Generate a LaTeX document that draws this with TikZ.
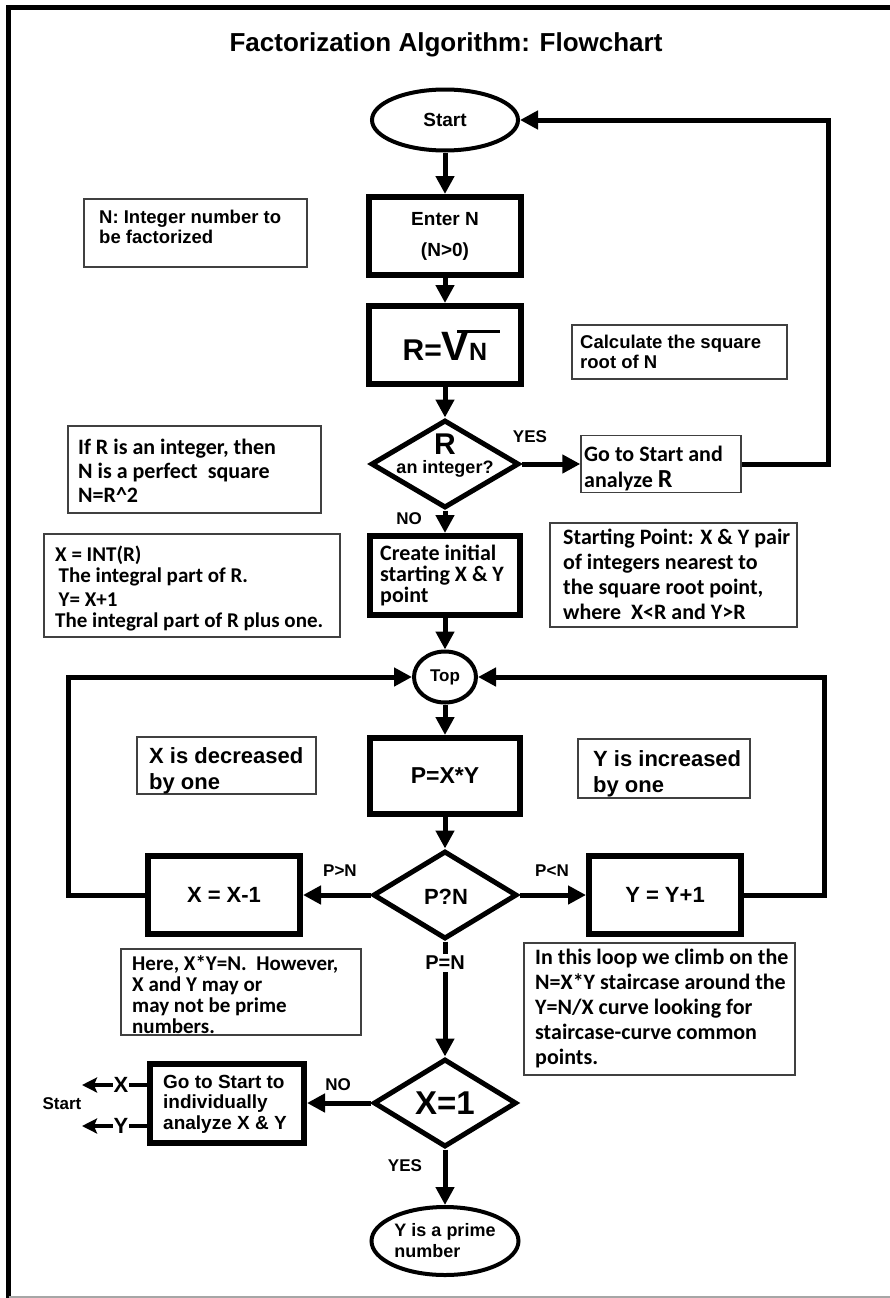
\documentclass[tikz,border=0pt]{standalone}
\usepackage{fontspec}
\setmainfont{Liberation Sans}
\newfontfamily\calfont{Carlito}
\usetikzlibrary{shapes.geometric,arrows.meta,calc}
\newcommand\fs[2]{\fontsize{#1}{#2}\selectfont\bfseries}
\newcommand\cf[2]{\calfont\fontsize{#1}{#2}\selectfont\bfseries}
\begin{document}
\begin{tikzpicture}[x=1pt,y=-1pt,
  thickbox/.style={draw,rectangle,line width=6pt,inner sep=0pt},
  note/.style={draw=black!75,rectangle,line width=1.4pt,inner sep=0pt},
  txt/.style={inner sep=0pt,anchor=north west,align=left},
  flow/.style={line width=5pt,-{Triangle[length=18pt,width=18pt]}},
  exitarrow/.style={line width=4pt,-{Stealth[length=15pt,width=15pt,inset=3pt]}},
  plain/.style={line width=5pt},
  lab/.style={inner sep=1pt,font=\fs{17}{20}}]
\useasboundingbox (0,0) rectangle (890,1298);
% frame
\draw[line width=5pt] (8.5,1298) -- (8.5,7.5) -- (890,7.5);
\draw[black!35,line width=2pt] (8.5,1296.5) -- (890,1296.5);
% title
\node[font=\fs{26}{30}] (title) at (446,45) {Factorization Algorithm: Flowchart};
% main column
\node[ellipse,draw,line width=4pt,minimum width=146pt,minimum height=61pt,inner sep=0pt,font=\fs{19}{20}] (start) at (445,120) {Start};
\node[thickbox,minimum width=152pt,minimum height=78pt,align=center,font=\fs{19}{31}] (enter) at (445,236) {Enter N\\(N>0)};
\node[thickbox,minimum width=152pt,minimum height=78pt] (sqrt) at (445,345)
  {{\fs{30}{30}R=}{\fs{41}{41}V}\kern-12pt\rule[27.5pt]{43pt}{3.2pt}\kern-31pt{\fs{25}{25}N}};
\node[diamond,draw,line width=5pt,minimum width=148pt,minimum height=88pt,inner sep=0pt] (dR) at (445,464) {};
\node[inner sep=0pt,font=\fs{30}{30}] (dRr) at (445,444) {R};
\node[inner sep=0pt,font=\fs{18}{20}] (dRt) at (445,469) {an integer?};
\node[lab] (yes1) at (530,437) {YES};
\node[note,minimum width=160pt,minimum height=57pt] (goR) at (661,464) {};
\node[txt,font=\cf{22}{26}] (goRt) at (584,446) {Go to Start and\\analyze {\fs{26}{26}R}};
\coordinate (rc) at (828,120);
\draw[flow] (start) -- (enter);
\draw[flow] (enter) -- (sqrt);
\draw[flow] (sqrt) -- (dR);
\draw[flow] (dR.east) -- (goR.west);
\draw[flow] (goR.east) -| (rc) -- (start.east);
% notes top
\node[note,minimum width=223pt,minimum height=68pt] (nN) at (195.5,233) {};
\node[txt,font=\fs{18.5}{20}] (nNt) at (99,210.2) {N: Integer number to\\be factorized};
\node[note,minimum width=215pt,minimum height=54pt] (nC) at (679.5,352) {};
\node[txt,font=\fs{18.5}{20}] (nCt) at (580,335.2) {Calculate the square\\root of N};
\node[note,minimum width=253pt,minimum height=87pt] (nR) at (194.5,469.5) {};
\node[txt,font=\cf{22}{24}] (nRt) at (78,439.3) {If R is an integer, then\\N is a perfect\ \ square\\N=R\textasciicircum2};
% create
\node[lab] (no1) at (409,519) {NO};
\node[thickbox,minimum width=150pt,minimum height=79pt] (create) at (445,575.5) {};
\node[txt,font=\cf{22}{21}] (createt) at (380,545.3) {Create initial\\starting X \& Y\\point};
\draw[flow] (dR.south) -- (create.north);
\node[note,minimum width=296pt,minimum height=103pt] (nX) at (192,585.5) {};
\node[txt,font=\cf{21}{21}] (nXt) at (55,545.6) {X = INT(R)\\\,The integral part of R.\\[3pt]\,Y= X+1\\The integral part of R plus one.};
\node[note,minimum width=247pt,minimum height=104pt] (nS) at (673.5,575) {};
\node[txt,font=\cf{22}{25}] (nSt) at (563,529.3) {Starting Point: X \& Y pair\\of integers nearest to\\the square root point,\\where\ \ X<R and Y>R};
% loop
\node[ellipse,draw,line width=4pt,minimum width=62pt,minimum height=51pt,inner sep=0pt,font=\fs{17}{20}] (top) at (445,677) {Top};
\draw[flow] (create) -- (top);
\node[thickbox,minimum width=150pt,minimum height=76pt,font=\fs{23}{24}] (pxy) at (445,776) {P=X*Y};
\draw[flow] (top) -- (pxy);
\node[note,minimum width=179pt,minimum height=57pt] (nDec) at (226.5,765.5) {};
\node[txt,font=\fs{22}{26}] (nDect) at (149,746.9) {X is decreased\\by one};
\node[note,minimum width=172pt,minimum height=59pt] (nInc) at (664,768.5) {};
\node[txt,font=\fs{22}{26}] (nInct) at (593,749.9) {Y is increased\\by one};
\node[diamond,draw,line width=5pt,minimum width=144pt,minimum height=88pt,inner sep=0pt] (dP) at (445,895) {};
\node[inner sep=0pt,font=\fs{22}{24}] (dPt) at (446,897) {P?N};
\draw[flow] (pxy) -- (dP);
\node[thickbox,minimum width=152pt,minimum height=78pt,font=\fs{22}{24}] (xm) at (224,895) {X = X-1};
\node[thickbox,minimum width=152pt,minimum height=78pt,font=\fs{22}{24}] (yp) at (665,895) {Y = Y+1};
\node[lab] (pgt) at (340,871) {P>N};
\node[lab] (plt) at (552,871) {P<N};
\draw[flow] (dP.west) -- (xm.east);
\draw[flow] (dP.east) -- (yp.west);
\coordinate (lc) at (68,677);
\coordinate (rc2) at (824,677);
\draw[flow] (xm.west) -| (lc) -- (top.west);
\draw[flow] (yp.east) -| (rc2) -- (top.east);
% bottom
\node[inner sep=2pt,font=\fs{20}{22}] (pn) at (445,963) {P=N};
\node[diamond,draw,line width=5pt,minimum width=143pt,minimum height=88pt,inner sep=0pt] (dX) at (445,1103) {};
\node[inner sep=0pt,font=\fs{33}{34}] (dXt) at (445,1103) {X=1};
\draw[plain] (dP.south) -- (pn.north);
\draw[flow] (pn.south) -- (dX.north);
\node[note,minimum width=240pt,minimum height=86pt] (nH) at (241,992) {};
\node[txt,font=\cf{21}{21}] (nHt) at (132,955.6) {Here, X*Y=N.\ \ However,\\X and Y may or\\may not be prime\\numbers.};
\node[note,minimum width=271pt,minimum height=132pt] (nL) at (659.5,1009) {};
\node[txt,font=\cf{22}{25}] (nLt) at (535,949.3) {In this loop we climb on the\\N=X*Y staircase around the\\Y=N/X curve looking for\\staircase-curve common\\points.};
\node[thickbox,minimum width=154pt,minimum height=79pt] (go2) at (227,1103) {};
\node[txt,font=\fs{19}{20.5}] (go2t) at (163,1075) {Go to Start to\\individually\\analyze X \& Y};
\node[lab] (no2) at (338,1085) {NO};
\draw[flow] (dX.west) -- (go2.east);
\coordinate (ax) at (82,1085);
\coordinate (ay) at (82,1126);
\draw[exitarrow] (go2.west |- ax) -- node[pos=0.4,fill=white,inner sep=1pt,font=\fs{22}{22}] (xl) {X} (ax);
\draw[exitarrow] (go2.west |- ay) -- node[pos=0.4,fill=white,inner sep=1pt,font=\fs{22}{22}] (yl) {Y} (ay);
\node[inner sep=0pt,font=\fs{17}{20}] (stl) at (62,1104) {Start};
\node[lab] (yes2) at (405,1166) {YES};
\node[ellipse,draw,line width=4pt,minimum width=147pt,minimum height=68pt,inner sep=0pt,align=left,font=\fs{18}{21}] (prime) at (445,1241) {Y is a prime\\number};
\draw[flow] (dX.south) -- (prime.north);
\end{tikzpicture}
\end{document}
